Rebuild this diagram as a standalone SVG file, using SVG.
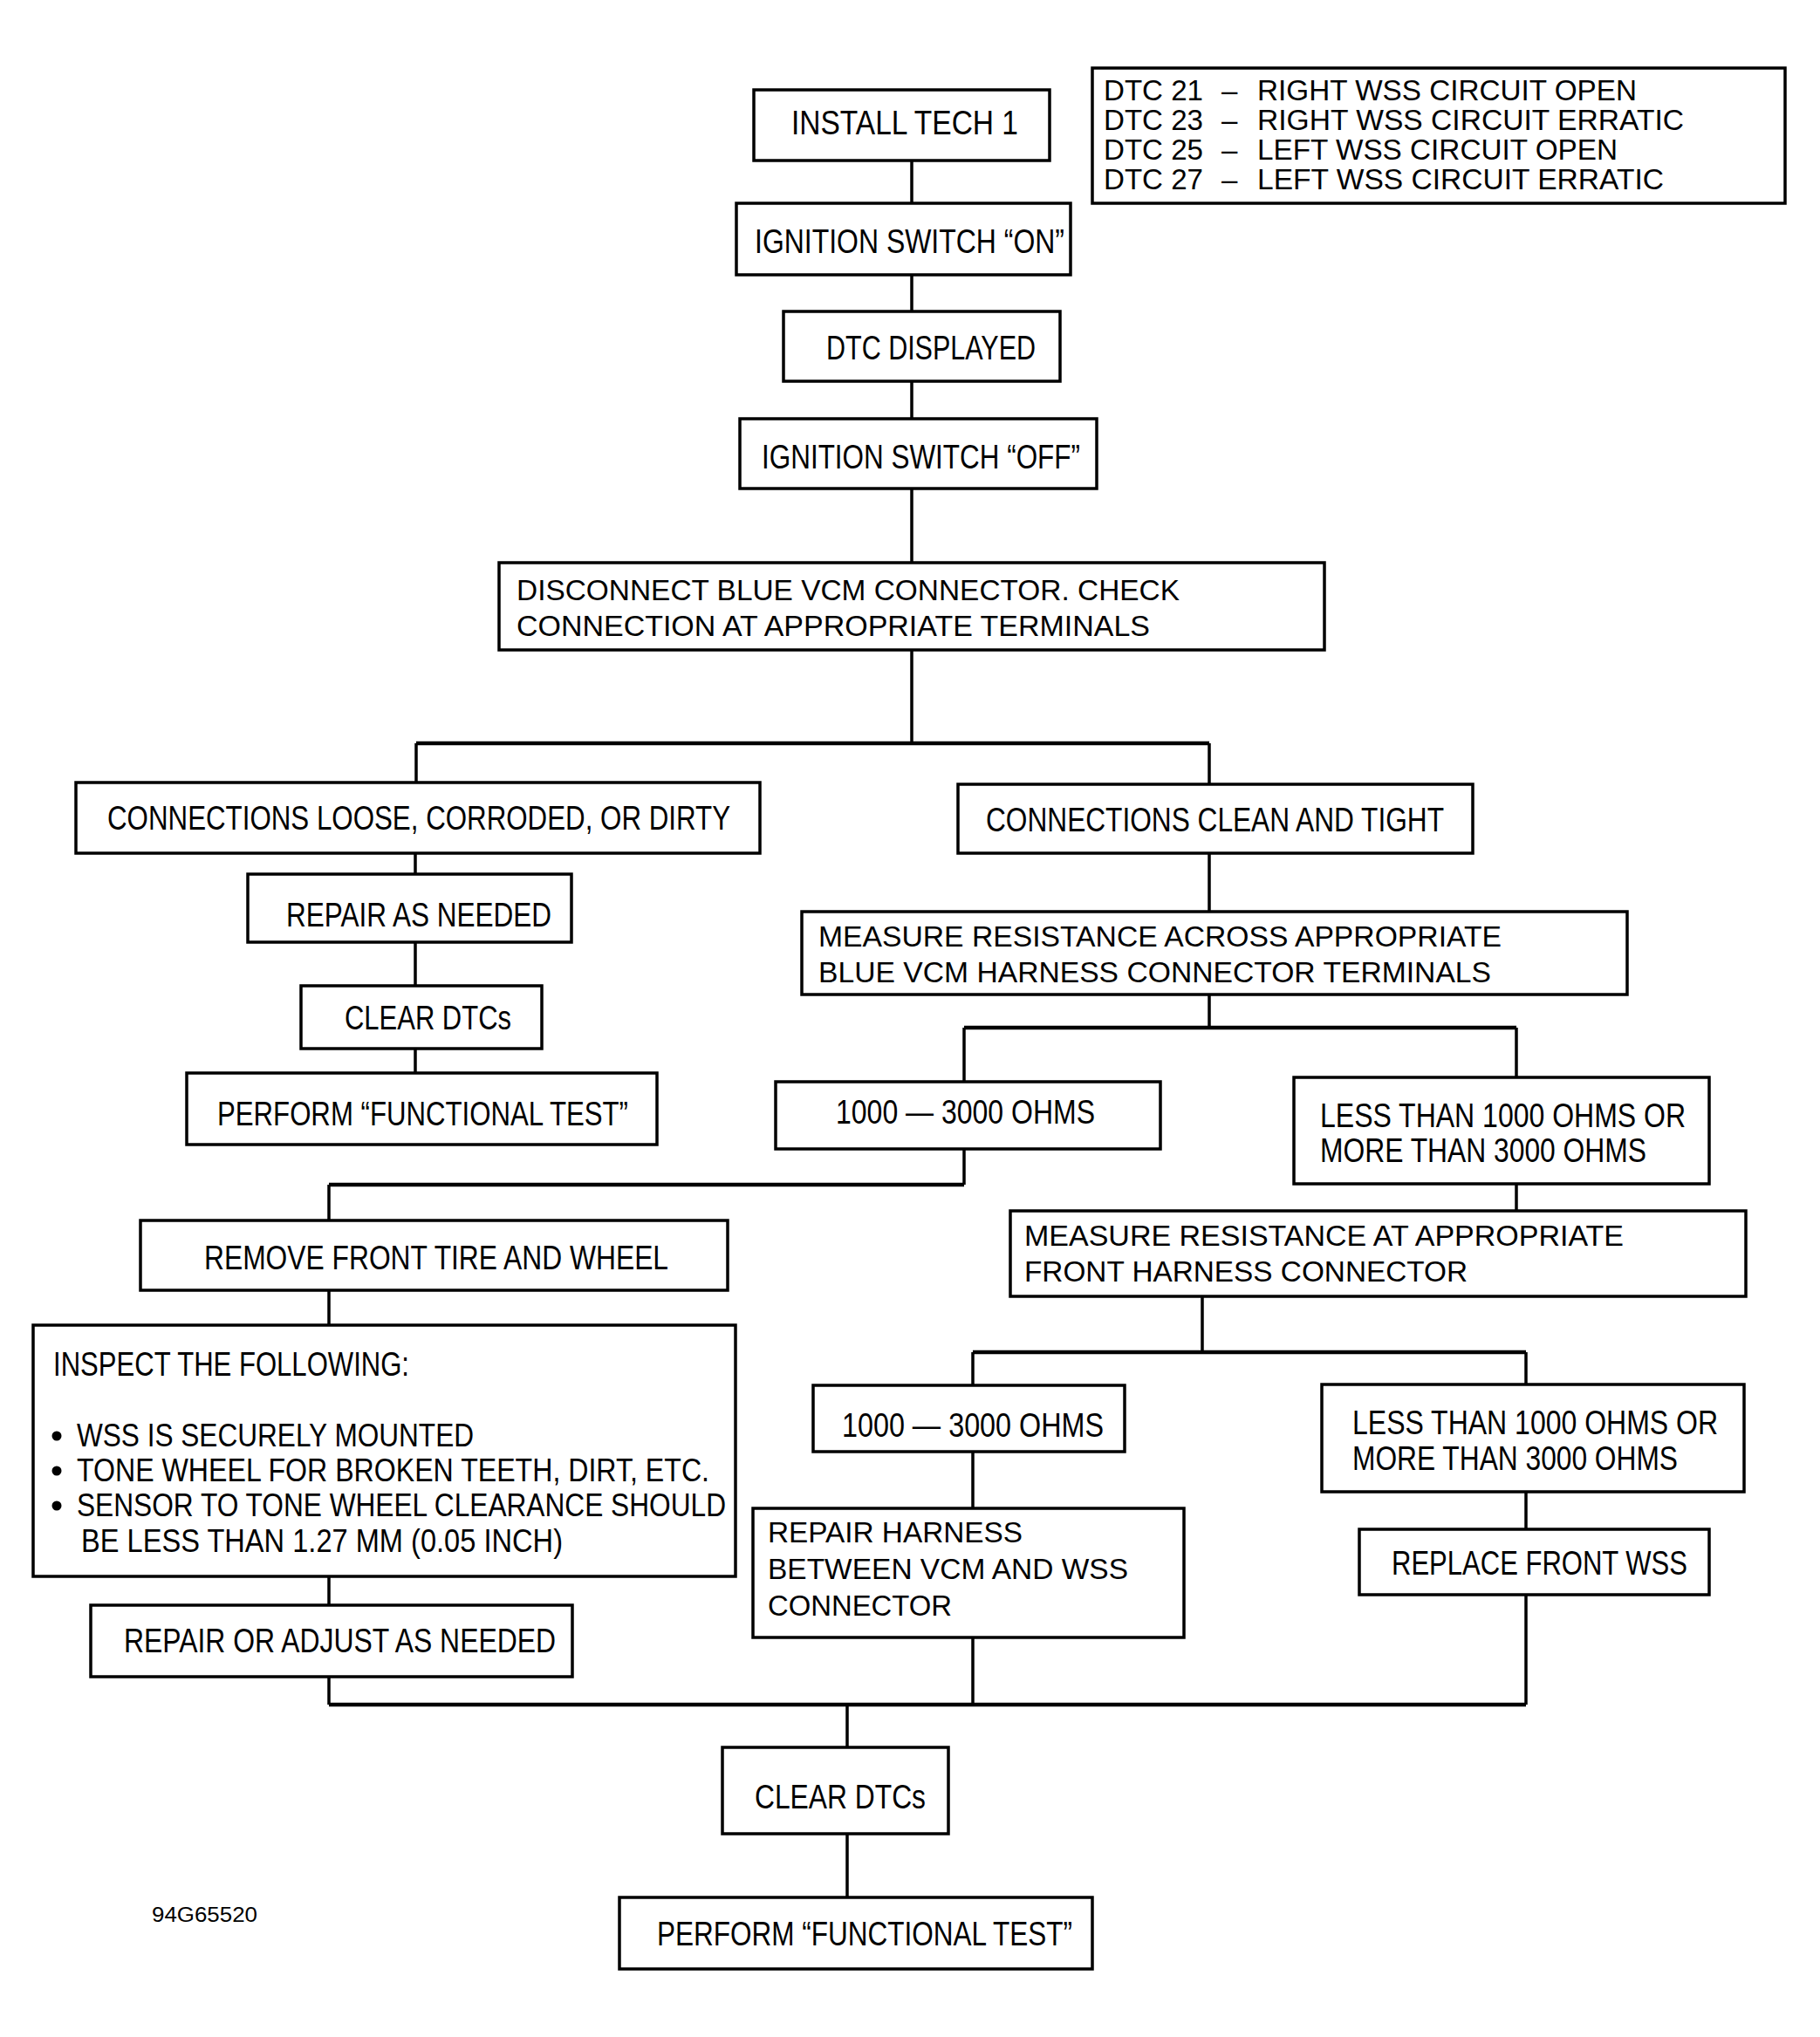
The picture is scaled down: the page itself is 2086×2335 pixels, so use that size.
<svg xmlns="http://www.w3.org/2000/svg" width="2086" height="2335" viewBox="0 0 2086 2335">
<style>
.bx{fill:#fff;stroke:#000;stroke-width:3.5}
.ln{fill:none;stroke:#000;stroke-width:3.5}
.hl{fill:none;stroke:#000;stroke-width:4.5}
.t{font-family:"Liberation Sans Narrow","Liberation Sans",Arial,sans-serif;font-size:38px;fill:#000}
.b{font-family:"Liberation Sans Narrow","Liberation Sans",Arial,sans-serif;font-size:36px;fill:#000}
.n{font-family:"Liberation Sans",Arial,sans-serif;font-size:34px;fill:#000}
.lg{font-family:"Liberation Sans",Arial,sans-serif;font-size:33px;fill:#000}
.id{font-family:"Liberation Sans Narrow","Liberation Sans",Arial,sans-serif;font-size:23px;fill:#000}
</style>
<rect width="2086" height="2335" fill="#fff"/>
<g id="connectors">
<path class="ln" d="M1045 184V233M1045 315V357M1045 437V480M1045 560V645M1045 745V852"/>
<path class="hl" d="M477 852H1386"/>
<path class="ln" d="M477 852V897M1386 852V899"/>
<path class="ln" d="M476 978V1002M476 1080V1130M476 1202V1230"/>
<path class="ln" d="M1386 978V1045M1386 1140V1178"/>
<path class="hl" d="M1105 1178H1738"/>
<path class="ln" d="M1105 1178V1240M1738 1178V1235"/>
<path class="ln" d="M1105 1317V1358"/>
<path class="hl" d="M377 1358H1105"/>
<path class="ln" d="M377 1358V1399M377 1479V1519M377 1807V1840M377 1922V1954"/>
<path class="ln" d="M1738 1357V1388"/>
<path class="ln" d="M1378 1486V1550"/>
<path class="hl" d="M1115 1550H1749"/>
<path class="ln" d="M1115 1550V1588M1749 1550V1587"/>
<path class="ln" d="M1115 1664V1729M1115 1877V1954"/>
<path class="ln" d="M1749 1710V1753M1749 1828V1954"/>
<path class="hl" d="M377 1954H1749"/>
<path class="ln" d="M971 1954V2003M971 2102V2175"/>
</g>
<g id="legend">
<rect class="bx" x="1252" y="78" width="794" height="155"/>
<text class="lg" x="1265" y="115" textLength="114" lengthAdjust="spacingAndGlyphs">DTC 21</text>
<text class="lg" x="1400" y="115">–</text>
<text class="lg" x="1441" y="115" textLength="435" lengthAdjust="spacingAndGlyphs">RIGHT WSS CIRCUIT OPEN</text>
<text class="lg" x="1265" y="149" textLength="114" lengthAdjust="spacingAndGlyphs">DTC 23</text>
<text class="lg" x="1400" y="149">–</text>
<text class="lg" x="1441" y="149" textLength="489" lengthAdjust="spacingAndGlyphs">RIGHT WSS CIRCUIT ERRATIC</text>
<text class="lg" x="1265" y="183" textLength="114" lengthAdjust="spacingAndGlyphs">DTC 25</text>
<text class="lg" x="1400" y="183">–</text>
<text class="lg" x="1441" y="183" textLength="413" lengthAdjust="spacingAndGlyphs">LEFT WSS CIRCUIT OPEN</text>
<text class="lg" x="1265" y="217" textLength="114" lengthAdjust="spacingAndGlyphs">DTC 27</text>
<text class="lg" x="1400" y="217">–</text>
<text class="lg" x="1441" y="217" textLength="466" lengthAdjust="spacingAndGlyphs">LEFT WSS CIRCUIT ERRATIC</text>
</g>
<g id="install">
<rect class="bx" x="864" y="103" width="339" height="81"/>
<text class="t" x="907" y="154" textLength="260" lengthAdjust="spacingAndGlyphs">INSTALL TECH 1</text>
</g>
<g id="ign-on">
<rect class="bx" x="844" y="233" width="383" height="82"/>
<text class="t" x="865" y="290" textLength="355" lengthAdjust="spacingAndGlyphs">IGNITION SWITCH “ON”</text>
</g>
<g id="dtc-displayed">
<rect class="bx" x="898" y="357" width="317" height="80"/>
<text class="t" x="947" y="412" textLength="240" lengthAdjust="spacingAndGlyphs">DTC DISPLAYED</text>
</g>
<g id="ign-off">
<rect class="bx" x="848" y="480" width="409" height="80"/>
<text class="t" x="873" y="537" textLength="365" lengthAdjust="spacingAndGlyphs">IGNITION SWITCH “OFF”</text>
</g>
<g id="disconnect">
<rect class="bx" x="572" y="645" width="946" height="100"/>
<text class="n" x="592" y="688" textLength="760" lengthAdjust="spacingAndGlyphs">DISCONNECT BLUE VCM CONNECTOR. CHECK</text>
<text class="n" x="592" y="729" textLength="726" lengthAdjust="spacingAndGlyphs">CONNECTION AT APPROPRIATE TERMINALS</text>
</g>
<g id="loose">
<rect class="bx" x="87" y="897" width="784" height="81"/>
<text class="t" x="123" y="951" textLength="714" lengthAdjust="spacingAndGlyphs">CONNECTIONS LOOSE, CORRODED, OR DIRTY</text>
</g>
<g id="repair-as-needed">
<rect class="bx" x="284" y="1002" width="371" height="78"/>
<text class="t" x="328" y="1062" textLength="304" lengthAdjust="spacingAndGlyphs">REPAIR AS NEEDED</text>
</g>
<g id="clear1">
<rect class="bx" x="345" y="1130" width="276" height="72"/>
<text class="t" x="395" y="1180" textLength="191" lengthAdjust="spacingAndGlyphs">CLEAR DTCs</text>
</g>
<g id="perform1">
<rect class="bx" x="214" y="1230" width="539" height="82"/>
<text class="t" x="249" y="1290" textLength="471" lengthAdjust="spacingAndGlyphs">PERFORM “FUNCTIONAL TEST”</text>
</g>
<g id="clean">
<rect class="bx" x="1098" y="899" width="590" height="79"/>
<text class="t" x="1130" y="953" textLength="525" lengthAdjust="spacingAndGlyphs">CONNECTIONS CLEAN AND TIGHT</text>
</g>
<g id="measure-across">
<rect class="bx" x="919" y="1045" width="946" height="95"/>
<text class="n" x="938" y="1085" textLength="783" lengthAdjust="spacingAndGlyphs">MEASURE RESISTANCE ACROSS APPROPRIATE</text>
<text class="n" x="938" y="1126" textLength="771" lengthAdjust="spacingAndGlyphs">BLUE VCM HARNESS CONNECTOR TERMINALS</text>
</g>
<g id="ohms1">
<rect class="bx" x="889" y="1240" width="441" height="77"/>
<text class="t" x="958" y="1288" textLength="297" lengthAdjust="spacingAndGlyphs">1000 — 3000 OHMS</text>
</g>
<g id="less1">
<rect class="bx" x="1483" y="1235" width="476" height="122"/>
<text class="t" x="1513" y="1292" textLength="419" lengthAdjust="spacingAndGlyphs">LESS THAN 1000 OHMS OR</text>
<text class="t" x="1513" y="1332" textLength="374" lengthAdjust="spacingAndGlyphs">MORE THAN 3000 OHMS</text>
</g>
<g id="remove">
<rect class="bx" x="161" y="1399" width="673" height="80"/>
<text class="t" x="234" y="1455" textLength="532" lengthAdjust="spacingAndGlyphs">REMOVE FRONT TIRE AND WHEEL</text>
</g>
<g id="inspect">
<rect class="bx" x="38" y="1519" width="805" height="288"/>
<text class="t" x="61" y="1577" textLength="408" lengthAdjust="spacingAndGlyphs">INSPECT THE FOLLOWING:</text>
<circle cx="65" cy="1646" r="5.5"/>
<text class="b" x="88" y="1658" textLength="455" lengthAdjust="spacingAndGlyphs">WSS IS SECURELY MOUNTED</text>
<circle cx="65" cy="1686" r="5.5"/>
<text class="b" x="88" y="1698" textLength="725" lengthAdjust="spacingAndGlyphs">TONE WHEEL FOR BROKEN TEETH, DIRT, ETC.</text>
<circle cx="65" cy="1726" r="5.5"/>
<text class="b" x="88" y="1738" textLength="744" lengthAdjust="spacingAndGlyphs">SENSOR TO TONE WHEEL CLEARANCE SHOULD</text>
<text class="b" x="93" y="1779" textLength="552" lengthAdjust="spacingAndGlyphs">BE LESS THAN 1.27 MM (0.05 INCH)</text>
</g>
<g id="repair-adjust">
<rect class="bx" x="104" y="1840" width="552" height="82"/>
<text class="t" x="142" y="1894" textLength="495" lengthAdjust="spacingAndGlyphs">REPAIR OR ADJUST AS NEEDED</text>
</g>
<g id="measure-at">
<rect class="bx" x="1158" y="1388" width="843" height="98"/>
<text class="n" x="1174" y="1428" textLength="687" lengthAdjust="spacingAndGlyphs">MEASURE RESISTANCE AT APPROPRIATE</text>
<text class="n" x="1174" y="1469" textLength="508" lengthAdjust="spacingAndGlyphs">FRONT HARNESS CONNECTOR</text>
</g>
<g id="ohms2">
<rect class="bx" x="932" y="1588" width="357" height="76"/>
<text class="t" x="965" y="1647" textLength="300" lengthAdjust="spacingAndGlyphs">1000 — 3000 OHMS</text>
</g>
<g id="less2">
<rect class="bx" x="1515" y="1587" width="484" height="123"/>
<text class="t" x="1550" y="1644" textLength="419" lengthAdjust="spacingAndGlyphs">LESS THAN 1000 OHMS OR</text>
<text class="t" x="1550" y="1685" textLength="373" lengthAdjust="spacingAndGlyphs">MORE THAN 3000 OHMS</text>
</g>
<g id="repair-harness">
<rect class="bx" x="863" y="1729" width="494" height="148"/>
<text class="n" x="880" y="1768" textLength="292" lengthAdjust="spacingAndGlyphs">REPAIR HARNESS</text>
<text class="n" x="880" y="1810" textLength="413" lengthAdjust="spacingAndGlyphs">BETWEEN VCM AND WSS</text>
<text class="n" x="880" y="1852" textLength="211" lengthAdjust="spacingAndGlyphs">CONNECTOR</text>
</g>
<g id="replace">
<rect class="bx" x="1558" y="1753" width="401" height="75"/>
<text class="t" x="1595" y="1805" textLength="339" lengthAdjust="spacingAndGlyphs">REPLACE FRONT WSS</text>
</g>
<g id="clear2">
<rect class="bx" x="828" y="2003" width="259" height="99"/>
<text class="t" x="865" y="2073" textLength="196" lengthAdjust="spacingAndGlyphs">CLEAR DTCs</text>
</g>
<g id="perform2">
<rect class="bx" x="710" y="2175" width="542" height="82"/>
<text class="t" x="753" y="2230" textLength="476" lengthAdjust="spacingAndGlyphs">PERFORM “FUNCTIONAL TEST”</text>
</g>
<text class="id" x="174" y="2203" textLength="121" lengthAdjust="spacingAndGlyphs">94G65520</text>
</svg>
